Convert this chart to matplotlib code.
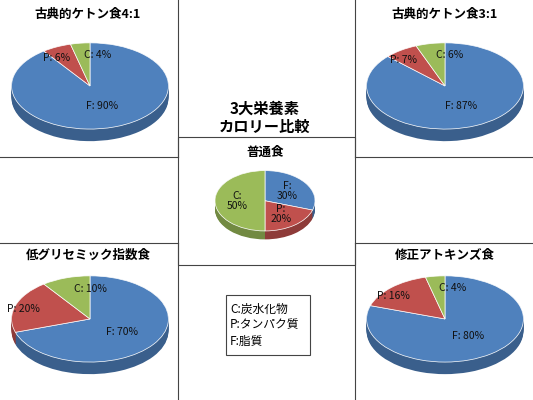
import numpy as np
import matplotlib
matplotlib.use("Agg")
import matplotlib.pyplot as plt
from matplotlib.lines import Line2D
from matplotlib.patches import Rectangle

plt.rcParams['font.family'] = ['Noto Sans CJK JP', 'DejaVu Sans']

names = ["古典的ケトン食4:1", "古典的ケトン食3:1", "普通食", "低グリセミック指数食", "修正アトキンズ食"]
keys = ["F", "P", "C"]
values = [[90, 6, 4], [87, 7, 6], [30, 20, 50], [70, 20, 10], [80, 16, 4]]
colors = ["#4F81BD", "#C0504D", "#9BBB59"]
dark = ["#3A5F8C", "#8E3B39", "#728A42"]

W, H = 533, 400
fig = plt.figure(figsize=(W/100, H/100), dpi=100)
fig.patch.set_facecolor("white")

def fx(x): return x / W
def fy(y): return 1 - y / H

segs = [((178, 0), (178, 157)), ((0, 157), (178, 157)),
        ((355, 0), (355, 157)), ((355, 157), (533, 157)),
        ((0, 243), (178, 243)), ((178, 243), (178, 400)),
        ((355, 243), (533, 243)), ((355, 243), (355, 400))]
for (x0, y0), (x1, y1) in segs:
    fig.add_artist(Line2D([fx(x0), fx(x1)], [fy(y0), fy(y1)], color="#444444", lw=0.8))
fig.add_artist(Rectangle((fx(178), fy(265)), fx(177), 128 / H, fill=False, ec="#444444", lw=0.8))
fig.add_artist(Rectangle((fx(226), fy(355)), fx(84), 60 / H, fill=False, ec="#444444", lw=0.8))

layout = [(90, 92, 160, 100, (88, 14)), (445, 92, 160, 100, (445, 14)),
          (265, 205, 102, 70, (265, 152)), (90, 325, 160, 100, (88, 255)),
          (445, 325, 160, 100, (445, 255))]

for vals, name, (cx, cy, w, h, (tx, ty)) in zip(values, names, layout):
    ax = fig.add_axes([fx(cx - w/2), fy(cy + h/2), w / W, h / H])
    depth = 0.28
    for d in np.linspace(depth, 0.01, 12):
        ax.pie(vals, colors=dark, startangle=90, counterclock=False, center=(0, -d),
               wedgeprops=dict(linewidth=0))
    ax.pie(vals, colors=colors, startangle=90, counterclock=False,
           wedgeprops=dict(linewidth=0.5, edgecolor="white"))
    ax.set_aspect("auto")
    ax.set_xlim(-1.02, 1.02)
    ax.set_ylim(-1.02 - depth, 1.02)
    ax.axis("off")
    small = name == "普通食"
    ang = 90.0
    for k, v in zip(keys, vals):
        mid = np.deg2rad(ang - v * 3.6 / 2)
        ang -= v * 3.6
        if small:
            r, ha, txt = 0.55, "center", f"{k}:\n{v}%"
            x, y = r * np.cos(mid), r * np.sin(mid)
        elif v > 50:
            ha, txt = "center", f"{k}: {v}%"
            x, y = 0.5 * np.cos(mid), 0.5 * np.sin(mid)
        else:
            txt = f"{k}: {v}%"
            r = 0.72
            x, y = r * np.cos(mid), r * np.sin(mid)
            if k == "C":
                ha, x = "left", x + 0.02
            else:
                ha, x = "right", x + 0.05
        ax.text(x, y, txt, ha=ha, va="center", fontsize=7.5, color="#111111", linespacing=1.0)
    fig.text(fx(tx), fy(ty), name, ha="center", va="center", fontsize=9, fontweight="bold")

fig.text(fx(265), fy(118), "3大栄養素\nカロリー比較", ha="center", va="center",
         fontsize=11, fontweight="bold", linespacing=1.2)
fig.text(fx(230), fy(325), "C:炭水化物\nP:タンパク質\nF:脂質", ha="left", va="center",
         fontsize=8.5, linespacing=1.3)

fig.savefig("out.png", dpi=100)
